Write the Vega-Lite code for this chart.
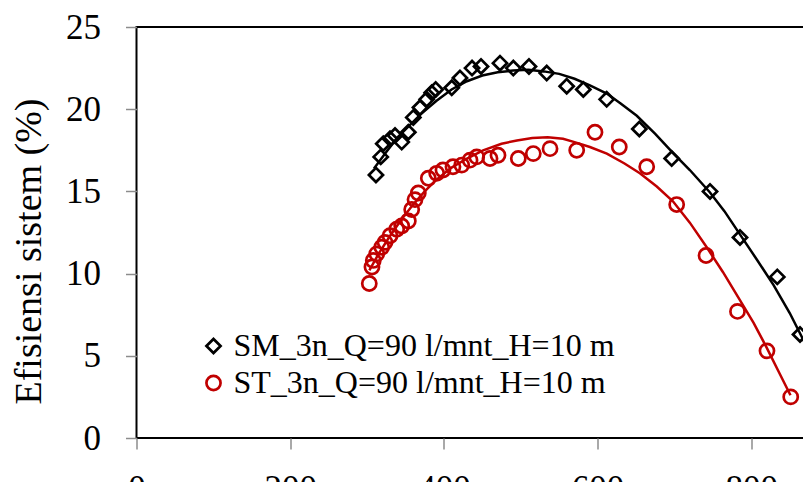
{
  "$schema": "https://vega.github.io/schema/vega-lite/v6.json",
  "width": 768.5,
  "height": 411,
  "autosize": "none",
  "padding": {"left": 136.5, "top": 27, "right": 0, "bottom": 44},
  "background": "white",
  "config": {
    "view": {"stroke": "black", "strokeWidth": 2},
    "font": "Liberation Serif",
    "axis": {
      "domain": false,
      "grid": false,
      "tickColor": "#8c8c8c",
      "tickWidth": 1.5,
      "tickSize": 11,
      "labelFont": "Liberation Serif",
      "labelFontSize": 35,
      "labelColor": "black",
      "titleFont": "Liberation Serif",
      "titleFontSize": 38,
      "titleFontWeight": "normal",
      "titleColor": "black"
    }
  },
  "datasets": {
    "pts": [
      {"x": 311.6, "eff": 16.0, "series": "SM_3n_Q=90 l/mnt_H=10 m"},
      {"x": 317.8, "eff": 17.1, "series": "SM_3n_Q=90 l/mnt_H=10 m"},
      {"x": 321.1, "eff": 17.9, "series": "SM_3n_Q=90 l/mnt_H=10 m"},
      {"x": 329.9, "eff": 18.2, "series": "SM_3n_Q=90 l/mnt_H=10 m"},
      {"x": 336.4, "eff": 18.4, "series": "SM_3n_Q=90 l/mnt_H=10 m"},
      {"x": 345.1, "eff": 18.0, "series": "SM_3n_Q=90 l/mnt_H=10 m"},
      {"x": 353.7, "eff": 18.6, "series": "SM_3n_Q=90 l/mnt_H=10 m"},
      {"x": 360.2, "eff": 19.5, "series": "SM_3n_Q=90 l/mnt_H=10 m"},
      {"x": 368.9, "eff": 20.1, "series": "SM_3n_Q=90 l/mnt_H=10 m"},
      {"x": 377.6, "eff": 20.6, "series": "SM_3n_Q=90 l/mnt_H=10 m"},
      {"x": 384.1, "eff": 21.0, "series": "SM_3n_Q=90 l/mnt_H=10 m"},
      {"x": 389.3, "eff": 21.2, "series": "SM_3n_Q=90 l/mnt_H=10 m"},
      {"x": 410.2, "eff": 21.3, "series": "SM_3n_Q=90 l/mnt_H=10 m"},
      {"x": 420.9, "eff": 21.9, "series": "SM_3n_Q=90 l/mnt_H=10 m"},
      {"x": 436.6, "eff": 22.5, "series": "SM_3n_Q=90 l/mnt_H=10 m"},
      {"x": 448.3, "eff": 22.6, "series": "SM_3n_Q=90 l/mnt_H=10 m"},
      {"x": 473.0, "eff": 22.8, "series": "SM_3n_Q=90 l/mnt_H=10 m"},
      {"x": 490.3, "eff": 22.5, "series": "SM_3n_Q=90 l/mnt_H=10 m"},
      {"x": 510.7, "eff": 22.6, "series": "SM_3n_Q=90 l/mnt_H=10 m"},
      {"x": 533.8, "eff": 22.2, "series": "SM_3n_Q=90 l/mnt_H=10 m"},
      {"x": 559.8, "eff": 21.4, "series": "SM_3n_Q=90 l/mnt_H=10 m"},
      {"x": 581.4, "eff": 21.2, "series": "SM_3n_Q=90 l/mnt_H=10 m"},
      {"x": 611.8, "eff": 20.6, "series": "SM_3n_Q=90 l/mnt_H=10 m"},
      {"x": 654.3, "eff": 18.8, "series": "SM_3n_Q=90 l/mnt_H=10 m"},
      {"x": 696.4, "eff": 17.0, "series": "SM_3n_Q=90 l/mnt_H=10 m"},
      {"x": 746.3, "eff": 15.0, "series": "SM_3n_Q=90 l/mnt_H=10 m"},
      {"x": 785.3, "eff": 12.2, "series": "SM_3n_Q=90 l/mnt_H=10 m"},
      {"x": 833.8, "eff": 9.8, "series": "SM_3n_Q=90 l/mnt_H=10 m"},
      {"x": 863.4, "eff": 6.3, "series": "SM_3n_Q=90 l/mnt_H=10 m"},
      {"x": 302.9, "eff": 9.4, "series": "ST_3n_Q=90 l/mnt_H=10 m"},
      {"x": 306.4, "eff": 10.4, "series": "ST_3n_Q=90 l/mnt_H=10 m"},
      {"x": 308.1, "eff": 10.8, "series": "ST_3n_Q=90 l/mnt_H=10 m"},
      {"x": 312.6, "eff": 11.2, "series": "ST_3n_Q=90 l/mnt_H=10 m"},
      {"x": 319.1, "eff": 11.6, "series": "ST_3n_Q=90 l/mnt_H=10 m"},
      {"x": 323.4, "eff": 11.9, "series": "ST_3n_Q=90 l/mnt_H=10 m"},
      {"x": 329.9, "eff": 12.3, "series": "ST_3n_Q=90 l/mnt_H=10 m"},
      {"x": 338.6, "eff": 12.7, "series": "ST_3n_Q=90 l/mnt_H=10 m"},
      {"x": 345.1, "eff": 12.9, "series": "ST_3n_Q=90 l/mnt_H=10 m"},
      {"x": 353.7, "eff": 13.2, "series": "ST_3n_Q=90 l/mnt_H=10 m"},
      {"x": 358.1, "eff": 13.9, "series": "ST_3n_Q=90 l/mnt_H=10 m"},
      {"x": 362.4, "eff": 14.5, "series": "ST_3n_Q=90 l/mnt_H=10 m"},
      {"x": 366.7, "eff": 14.9, "series": "ST_3n_Q=90 l/mnt_H=10 m"},
      {"x": 379.7, "eff": 15.8, "series": "ST_3n_Q=90 l/mnt_H=10 m"},
      {"x": 390.6, "eff": 16.1, "series": "ST_3n_Q=90 l/mnt_H=10 m"},
      {"x": 398.8, "eff": 16.3, "series": "ST_3n_Q=90 l/mnt_H=10 m"},
      {"x": 411.8, "eff": 16.5, "series": "ST_3n_Q=90 l/mnt_H=10 m"},
      {"x": 423.2, "eff": 16.6, "series": "ST_3n_Q=90 l/mnt_H=10 m"},
      {"x": 434.0, "eff": 16.9, "series": "ST_3n_Q=90 l/mnt_H=10 m"},
      {"x": 442.7, "eff": 17.1, "series": "ST_3n_Q=90 l/mnt_H=10 m"},
      {"x": 460.0, "eff": 17.0, "series": "ST_3n_Q=90 l/mnt_H=10 m"},
      {"x": 470.4, "eff": 17.2, "series": "ST_3n_Q=90 l/mnt_H=10 m"},
      {"x": 496.8, "eff": 17.0, "series": "ST_3n_Q=90 l/mnt_H=10 m"},
      {"x": 516.3, "eff": 17.3, "series": "ST_3n_Q=90 l/mnt_H=10 m"},
      {"x": 538.1, "eff": 17.6, "series": "ST_3n_Q=90 l/mnt_H=10 m"},
      {"x": 572.8, "eff": 17.5, "series": "ST_3n_Q=90 l/mnt_H=10 m"},
      {"x": 596.6, "eff": 18.6, "series": "ST_3n_Q=90 l/mnt_H=10 m"},
      {"x": 628.2, "eff": 17.7, "series": "ST_3n_Q=90 l/mnt_H=10 m"},
      {"x": 663.9, "eff": 16.5, "series": "ST_3n_Q=90 l/mnt_H=10 m"},
      {"x": 702.9, "eff": 14.2, "series": "ST_3n_Q=90 l/mnt_H=10 m"},
      {"x": 741.1, "eff": 11.1, "series": "ST_3n_Q=90 l/mnt_H=10 m"},
      {"x": 782.0, "eff": 7.7, "series": "ST_3n_Q=90 l/mnt_H=10 m"},
      {"x": 820.4, "eff": 5.3, "series": "ST_3n_Q=90 l/mnt_H=10 m"},
      {"x": 851.3, "eff": 2.5, "series": "ST_3n_Q=90 l/mnt_H=10 m"}
    ],
    "smCurve": [
      {"x": 309, "eff": 16.4}, {"x": 325, "eff": 17.4}, {"x": 340, "eff": 18.3},
      {"x": 355, "eff": 19.0}, {"x": 370, "eff": 19.7}, {"x": 390, "eff": 20.5},
      {"x": 410, "eff": 21.2}, {"x": 430, "eff": 21.7}, {"x": 450, "eff": 22.05},
      {"x": 470, "eff": 22.25}, {"x": 490, "eff": 22.35}, {"x": 510, "eff": 22.4},
      {"x": 530, "eff": 22.3}, {"x": 550, "eff": 22.15}, {"x": 570, "eff": 21.85},
      {"x": 590, "eff": 21.45}, {"x": 612, "eff": 20.95}, {"x": 630, "eff": 20.35},
      {"x": 651, "eff": 19.6}, {"x": 675, "eff": 18.5}, {"x": 698, "eff": 17.35},
      {"x": 720, "eff": 16.3}, {"x": 746, "eff": 14.95}, {"x": 765, "eff": 13.8},
      {"x": 785, "eff": 12.4}, {"x": 808, "eff": 10.8}, {"x": 829, "eff": 9.3},
      {"x": 850, "eff": 7.6}, {"x": 863, "eff": 6.4}, {"x": 875, "eff": 5.3}
    ],
    "stCurve": [
      {"x": 303, "eff": 10.2}, {"x": 315, "eff": 11.2}, {"x": 330, "eff": 12.3},
      {"x": 345, "eff": 13.3}, {"x": 360, "eff": 14.2}, {"x": 375, "eff": 15.0},
      {"x": 390, "eff": 15.7}, {"x": 410, "eff": 16.45}, {"x": 430, "eff": 17.0},
      {"x": 451, "eff": 17.5}, {"x": 475, "eff": 17.9}, {"x": 495, "eff": 18.1},
      {"x": 515, "eff": 18.25}, {"x": 535, "eff": 18.3}, {"x": 555, "eff": 18.2},
      {"x": 570, "eff": 18.0}, {"x": 590, "eff": 17.7}, {"x": 612, "eff": 17.3},
      {"x": 635, "eff": 16.7}, {"x": 655, "eff": 16.1}, {"x": 677, "eff": 15.3},
      {"x": 698, "eff": 14.4}, {"x": 720, "eff": 13.1}, {"x": 742, "eff": 11.6},
      {"x": 763, "eff": 10.1}, {"x": 785, "eff": 8.4}, {"x": 803, "eff": 7.0},
      {"x": 820, "eff": 5.5}, {"x": 836, "eff": 4.0}, {"x": 851, "eff": 2.6}
    ]
  },
  "encoding": {
    "x": {
      "field": "x", "type": "quantitative",
      "scale": {"domain": [0, 1000], "nice": false, "zero": false},
      "axis": {"values": [0, 200, 400, 600, 800, 1000], "title": null, "labelPadding": 22, "labelFlush": false}
    },
    "y": {
      "field": "eff", "type": "quantitative",
      "scale": {"domain": [0, 25], "nice": false},
      "axis": {
        "values": [0, 5, 10, 15, 20, 25],
        "title": "Efisiensi sistem (%)",
        "labelPadding": 25,
        "labelFlush": false,
        "titleAngle": -90,
        "titleX": -107.5,
        "titleY": 224,
        "titleAlign": "center",
        "titleBaseline": "middle"
      }
    }
  },
  "layer": [
    {
      "data": {"name": "smCurve"},
      "mark": {"type": "line", "color": "black", "strokeWidth": 2.5, "clip": true}
    },
    {
      "data": {"name": "stCurve"},
      "mark": {"type": "line", "color": "#C00000", "strokeWidth": 2.5, "clip": true}
    },
    {
      "data": {"name": "pts"},
      "mark": {"type": "point", "filled": false, "strokeWidth": 2.7, "size": 200, "opacity": 1},
      "encoding": {
        "stroke": {
          "field": "series", "type": "nominal",
          "scale": {"domain": ["SM_3n_Q=90 l/mnt_H=10 m", "ST_3n_Q=90 l/mnt_H=10 m"], "range": ["black", "#C00000"]},
          "legend": {
            "orient": "none", "legendX": 61, "legendY": 303, "title": null,
            "labelFont": "Liberation Serif", "labelFontSize": 32, "labelColor": "black", "labelLimit": 0,
            "symbolSize": 200, "symbolStrokeWidth": 2.7, "labelOffset": 4, "rowPadding": 5
          }
        },
        "shape": {
          "field": "series", "type": "nominal",
          "scale": {"domain": ["SM_3n_Q=90 l/mnt_H=10 m", "ST_3n_Q=90 l/mnt_H=10 m"], "range": ["diamond", "circle"]},
          "legend": {
            "orient": "none", "legendX": 61, "legendY": 303, "title": null,
            "labelFont": "Liberation Serif", "labelFontSize": 32, "labelColor": "black", "labelLimit": 0,
            "symbolSize": 200, "symbolStrokeWidth": 2.7, "labelOffset": 4, "rowPadding": 5
          }
        }
      }
    }
  ]
}
